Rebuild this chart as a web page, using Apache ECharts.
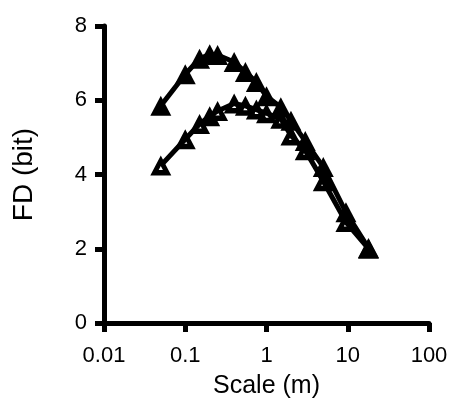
<!DOCTYPE html>
<html>
<head>
<meta charset="utf-8">
<script src="https://cdn.jsdelivr.net/npm/echarts@6/dist/echarts.min.js"></script>
<style>html,body{margin:0;padding:0;background:#fff}#c{width:449px;height:398px}</style>
</head>
<body>
<div id="c"></div>
<script>
var scaleFilled = [0.05, 0.1, 0.15, 0.2, 0.25, 0.4, 0.55, 0.75, 1, 1.5, 2, 3, 5, 9.5, 18];
var fdFilled    = [5.85, 6.7, 7.12, 7.24, 7.22, 7.03, 6.76, 6.49, 6.11, 5.81, 5.45, 4.9, 4.2, 2.98, 2.02];
var scaleOpen   = [0.05, 0.1, 0.15, 0.2, 0.25, 0.4, 0.55, 0.75, 1, 1.5, 2, 3, 5, 9.5, 18];
var fdOpen      = [4.24, 4.95, 5.36, 5.57, 5.71, 5.91, 5.85, 5.75, 5.65, 5.5, 5.05, 4.65, 3.82, 2.72, 2.0];
var xTicks = [0.01, 0.1, 1, 10, 100];
var yTicks = [0, 2, 4, 6, 8];

function pairs(xs, ys){ return xs.map(function(x,i){ return [x, ys[i]]; }); }

var solidTri = 'path://M10 0 L20 20 L0 20 Z';
var openTri  = 'path://M10 0 L20 20 L0 20 Z M10 10.5 L8 14.5 L12 14.5 Z';

var chart = echarts.init(document.getElementById('c'), null, {renderer:'canvas'});
var font = 'Liberation Sans';
chart.setOption({
  animation: false,
  grid: {left: 104, right: 20, top: 26, bottom: 75, containLabel: false, outerBoundsMode: 'none'},
  xAxis: {
    type: 'log', logBase: 10, min: xTicks[0], max: xTicks[xTicks.length-1],
    name: 'Scale (m)', nameLocation: 'middle', nameGap: 51,
    nameTextStyle: {fontFamily: font, fontSize: 25, color: '#000'},
    axisLine: {lineStyle: {color: '#000', width: 5}},
    axisTick: {inside: false, length: 9, lineStyle: {color: '#000', width: 5}},
    minorTick: {show: false},
    splitLine: {show: false},
    axisLabel: {fontFamily: font, fontSize: 22, color: '#000', margin: 22,
      formatter: function(v){ return String(+v.toPrecision(6)); }}
  },
  yAxis: {
    type: 'value', min: yTicks[0], max: yTicks[yTicks.length-1], interval: 2,
    name: 'FD (bit)', nameLocation: 'middle', nameGap: 66, nameRotate: 90,
    nameTextStyle: {fontFamily: font, fontSize: 28, color: '#000'},
    axisLine: {lineStyle: {color: '#000', width: 5}},
    axisTick: {inside: false, length: 9, lineStyle: {color: '#000', width: 5}},
    splitLine: {show: false},
    axisLabel: {fontFamily: font, fontSize: 22, color: '#000', margin: 17}
  },
  series: [
    {
      type: 'line', data: pairs(scaleOpen, fdOpen),
      symbol: openTri, symbolSize: [21, 20], showAllSymbol: true,
      lineStyle: {color: '#000', width: 5},
      itemStyle: {color: '#000', borderWidth: 0}
    },
    {
      type: 'line', data: pairs(scaleFilled, fdFilled),
      symbol: solidTri, symbolSize: [21, 20], showAllSymbol: true,
      lineStyle: {color: '#000', width: 5},
      itemStyle: {color: '#000', borderWidth: 0}
    }
  ]
});
</script>
</body>
</html>
